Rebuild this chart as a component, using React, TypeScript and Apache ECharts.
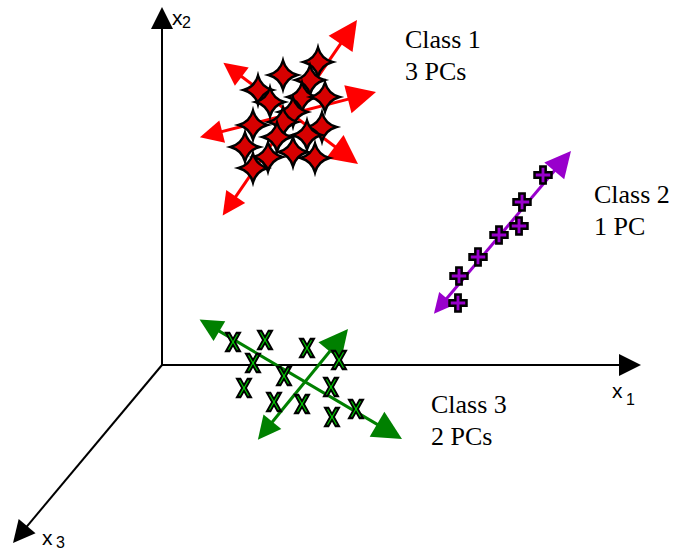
import React, { useEffect, useRef } from "react";
import * as echarts from "echarts";

// ---- Data (diagram coordinates, x to the right, y downward) ----
const origin: [number, number] = [162, 365];
const axisTips: [number, number][] = [
  [641, 365], // x1
  [162, 7],   // x2
  [13, 543],  // x3
];

const class1Points: [number, number][] = [
  [318, 62], [283, 75], [310, 80], [258, 90], [270, 102], [302, 97],
  [325, 97], [293, 112], [283, 122], [253, 125], [322, 127], [277, 137],
  [307, 135], [245, 147], [293, 152], [268, 157], [315, 158], [253, 168],
];
const class2Points: [number, number][] = [
  [543, 175], [522, 202], [519, 226], [499, 235], [478, 257], [459, 276], [458, 303],
];
const class3Points: [number, number][] = [
  [233, 342], [265, 340], [307, 348], [339, 360], [253, 363], [284, 376],
  [244, 388], [331, 387], [274, 402], [302, 404], [356, 409], [332, 417],
];

const class1Arrows: [number, number][][] = [
  [[221, 218], [357, 20]],
  [[197, 138], [376, 92]],
  [[221, 61], [358, 164]],
];
const class2Arrows: [number, number][][] = [[[432, 316], [571, 151]]];
const class3Arrows: [number, number][][] = [
  [[197, 318], [402, 439]],
  [[256, 442], [348, 329]],
];

const classLabels = [
  { lines: ["Class 1", "3 PCs"], at: [405, 26] },
  { lines: ["Class 2", "1 PC"], at: [594, 181] },
  { lines: ["Class 3", "2 PCs"], at: [431, 391] },
];
const axisLabels = [
  { main: "x", sub: "1", at: [612, 380], subAt: [626, 391] },
  { main: "x", sub: "2", at: [172, 7], subAt: [182, 14] },
  { main: "x", sub: "3", at: [42, 527], subAt: [56, 534] },
];

const STAR = "path://M0,-14 Q3,-3 14,0 Q3,3 0,14 Q-3,3 -14,0 Q-3,-3 0,-14 Z";
const PLUS = "path://M-2.2,-7 H2.2 V-2.2 H7 V2.2 H2.2 V7 H-2.2 V2.2 H-7 V-2.2 H-2.2 Z";
const CROSS = "path://M-6,-8 L-3,-8 L0,-2.6 L3,-8 L6,-8 L1.6,0 L6,8 L3,8 L0,2.6 L-3,8 L-6,8 L-1.6,0 Z";

const SERIF = '"Liberation Serif", "Times New Roman", serif';
const SANS = '"Liberation Sans", Arial, sans-serif';

function inset(a: number[], b: number[], la: number, lb: number) {
  const dx = b[0] - a[0], dy = b[1] - a[1];
  const L = Math.hypot(dx, dy);
  const ux = dx / L, uy = dy / L;
  return {
    coords: [
      [a[0] + (ux * la) / 2, a[1] + (uy * la) / 2],
      [b[0] - (ux * lb) / 2, b[1] - (uy * lb) / 2],
    ],
  };
}

function arrowSeries(arrows: number[][][], color: string, w: number, h: number, z: number) {
  return {
    type: "lines",
    coordinateSystem: "cartesian2d",
    z,
    symbol: ["triangle", "triangle"],
    symbolSize: [w, h],
    lineStyle: { color, width: 3, opacity: 1 },
    itemStyle: { color },
    data: arrows.map((p) => inset(p[0], p[1], h, h)),
    silent: true,
  };
}

export default function App() {
  const ref = useRef<HTMLDivElement>(null);
  useEffect(() => {
    if (!ref.current) return;
    const chart = echarts.init(ref.current, undefined, { renderer: "svg" });
    const graphic: any[] = [];
    classLabels.forEach((c) => {
      c.lines.forEach((t, i) => {
        graphic.push({
          type: "text",
          x: c.at[0],
          y: c.at[1] + i * 32,
          style: {
            text: t,
            fontSize: 26,
            fontFamily: SERIF,
            fill: "#000",
            verticalAlign: "top",
          },
        });
      });
    });
    axisLabels.forEach((a) => {
      graphic.push({
        type: "text",
        x: a.at[0],
        y: a.at[1],
        style: { text: a.main, fontSize: 21, fontFamily: SANS, fill: "#000", verticalAlign: "top" },
      });
      graphic.push({
        type: "text",
        x: a.subAt[0],
        y: a.subAt[1],
        style: { text: a.sub, fontSize: 16, fontFamily: SANS, fill: "#000", verticalAlign: "top" },
      });
    });

    chart.setOption({
      animation: false,
      backgroundColor: "#ffffff",
      grid: { left: 0, right: 0, top: 0, bottom: 0 },
      xAxis: { type: "value", min: 0, max: 681, show: false },
      yAxis: { type: "value", min: 0, max: 550, inverse: true, show: false },
      graphic,
      series: [
        {
          type: "lines",
          coordinateSystem: "cartesian2d",
          z: 1,
          symbol: ["none", "triangle"],
          symbolSize: [17, 22],
          lineStyle: { color: "#000", width: 2, opacity: 1 },
          itemStyle: { color: "#000" },
          data: axisTips.map((t) => inset(origin, t, 0, 22)),
          silent: true,
        },
        arrowSeries(class1Arrows, "#ff0000", 23, 29, 2),
        arrowSeries(class2Arrows, "#9900cc", 20, 26, 2),
        arrowSeries(class3Arrows, "#008000", 23, 29, 2),
        {
          type: "scatter",
          z: 3,
          symbol: STAR,
          symbolSize: 29,
          itemStyle: { color: "#d60000", borderColor: "#000", borderWidth: 2.5, opacity: 1 },
          data: class1Points,
          silent: true,
        },
        {
          type: "scatter",
          z: 3,
          symbol: PLUS,
          symbolSize: 17,
          itemStyle: { color: "#9900cc", borderColor: "#000", borderWidth: 2.5, opacity: 1 },
          data: class2Points,
          silent: true,
        },
        {
          type: "scatter",
          z: 3,
          symbol: CROSS,
          symbolSize: [14, 18],
          itemStyle: { color: "#00cc00", borderColor: "#000", borderWidth: 2, opacity: 1 },
          data: class3Points,
          silent: true,
        },
      ],
    });
    return () => chart.dispose();
  }, []);
  return (
    <div
      ref={ref}
      style={{ position: "absolute", left: 0, top: 0, width: 681, height: 550 }}
    />
  );
}
